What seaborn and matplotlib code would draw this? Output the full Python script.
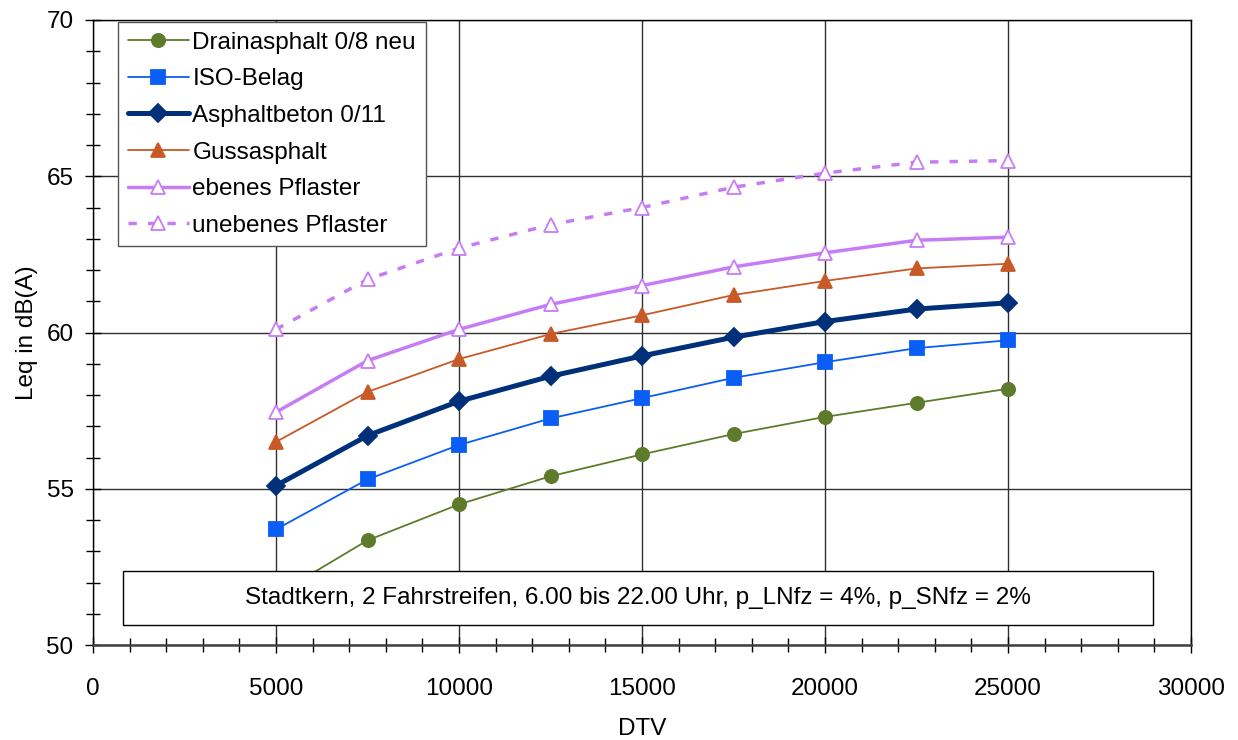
import numpy as np
import pandas as pd
import matplotlib
matplotlib.use("Agg")
import matplotlib.pyplot as plt
from matplotlib.patches import Rectangle
from matplotlib.ticker import MultipleLocator
import seaborn as sns

# Daily traffic volume (DTV) and resulting noise level Leq in dB(A)
dtv = [5000, 7500, 10000, 12500, 15000, 17500, 20000, 22500, 25000]

drainasphalt = [51.6, 53.35, 54.5, 55.4, 56.1, 56.75, 57.3, 57.75, 58.2]
iso_belag = [53.7, 55.3, 56.4, 57.25, 57.9, 58.55, 59.05, 59.5, 59.75]
asphaltbeton = [55.1, 56.7, 57.8, 58.6, 59.25, 59.85, 60.35, 60.75, 60.95]
gussasphalt = [56.5, 58.1, 59.15, 59.95, 60.55, 61.2, 61.65, 62.05, 62.2]
ebenes_pflaster = [57.45, 59.1, 60.1, 60.9, 61.5, 62.1, 62.55, 62.95, 63.05]
unebenes_pflaster = [60.1, 61.7, 62.7, 63.45, 64.0, 64.65, 65.1, 65.45, 65.5]

series_names = ["Drainasphalt 0/8 neu", "ISO-Belag", "Asphaltbeton 0/11",
                "Gussasphalt", "ebenes Pflaster", "unebenes Pflaster"]
series_values = [drainasphalt, iso_belag, asphaltbeton,
                 gussasphalt, ebenes_pflaster, unebenes_pflaster]

x_ticks = [0, 5000, 10000, 15000, 20000, 25000, 30000]
y_ticks = [50, 55, 60, 65, 70]
info_text = "Stadtkern, 2 Fahrstreifen, 6.00 bis 22.00 Uhr, p_LNfz = 4%, p_SNfz = 2%"

sns.set_theme(style="white")
plt.rcParams["font.family"] = ["Liberation Sans", "DejaVu Sans"]
plt.rcParams["text.color"] = "black"
plt.rcParams["axes.labelcolor"] = "black"
plt.rcParams["xtick.color"] = "black"
plt.rcParams["ytick.color"] = "black"

FS = 17.5

styles = {
    "Drainasphalt 0/8 neu": dict(color="#5E7B2C", marker="o", ms=9.5, lw=1.3, mfc="#5E7B2C", ls="-"),
    "ISO-Belag": dict(color="#0A5EF5", marker="s", ms=9.5, lw=1.3, mfc="#0A5EF5", ls="-"),
    "Asphaltbeton 0/11": dict(color="#00307A", marker="D", ms=9.5, lw=3.6, mfc="#00307A", ls="-"),
    "Gussasphalt": dict(color="#C85A28", marker="^", ms=10.5, lw=1.3, mfc="#C85A28", ls="-"),
    "ebenes Pflaster": dict(color="#C77CF5", marker="^", ms=10.5, lw=2.5, mfc="white", ls="-"),
    "unebenes Pflaster": dict(color="#C77CF5", marker="^", ms=10.5, lw=2.5, mfc="white", ls=(0, (2.4, 3.2))),
}

df = pd.DataFrame({
    "DTV": np.tile(dtv, len(series_names)),
    "Leq": np.concatenate(series_values),
    "Belag": np.repeat(series_names, len(dtv)),
})

fig = plt.figure(figsize=(12.38, 7.4), dpi=100)
ax = fig.add_axes([93 / 1238, 1 - 645 / 740, 1098 / 1238, 625 / 740])

handles = []
for name in series_names:
    st = styles[name]
    sub = df[df["Belag"] == name]
    sns.lineplot(data=sub, x="DTV", y="Leq", ax=ax, color=st["color"],
                 linewidth=st["lw"], linestyle=st["ls"], marker=st["marker"],
                 markersize=st["ms"], markerfacecolor=st["mfc"],
                 markeredgecolor=st["color"], markeredgewidth=1.3,
                 zorder=3, label=name, legend=False)
    handles.append(ax.lines[-1])

ax.set_xlim(0, 30000)
ax.set_ylim(50, 70)
ax.set_xticks(x_ticks)
ax.set_yticks(y_ticks)
ax.xaxis.set_minor_locator(MultipleLocator(1000))
ax.yaxis.set_minor_locator(MultipleLocator(1))
ax.grid(True, which="major", color="#303030", linewidth=1.0)
ax.set_axisbelow(True)

ax.tick_params(axis="both", which="major", direction="inout", length=12,
               width=1.0, color="black", labelsize=FS, labelcolor="black")
ax.tick_params(axis="both", which="minor", direction="inout", length=10,
               width=1.0, color="black")
ax.tick_params(axis="x", which="major", pad=18)
ax.tick_params(axis="y", which="major", pad=8)
ax.tick_params(axis="both", which="both", bottom=True, left=True)

for side in ["top", "right", "left"]:
    ax.spines[side].set_color("black")
    ax.spines[side].set_linewidth(1.0)
ax.spines["bottom"].set_color("#404040")
ax.spines["bottom"].set_linewidth(1.8)

ax.set_xlabel("DTV", fontsize=FS, labelpad=13, color="black")
ax.set_ylabel("Leq in dB(A)", fontsize=FS, labelpad=6, color="black")

# Info box with the calculation conditions
ax.add_patch(Rectangle((0.0273, 0.032), 0.9381, 0.0864, transform=ax.transAxes,
                       facecolor="white", edgecolor="black", linewidth=1.0, zorder=5))
ax.text(0.4963, 0.075, info_text, transform=ax.transAxes, ha="center",
        va="center", fontsize=FS, color="black", zorder=6)

leg = ax.legend(handles=handles, labels=series_names, loc="upper left",
                bbox_to_anchor=(0.0228, 0.9968), borderaxespad=0, fontsize=FS,
                frameon=True, fancybox=False, framealpha=1, edgecolor="#555555",
                handlelength=2.5, handletextpad=0.16, labelspacing=0.6,
                borderpad=0.4)
leg.get_frame().set_linewidth(1.0)
leg.set_zorder(7)
for t in leg.get_texts():
    t.set_color("black")

fig.savefig("out.png", dpi=100)
